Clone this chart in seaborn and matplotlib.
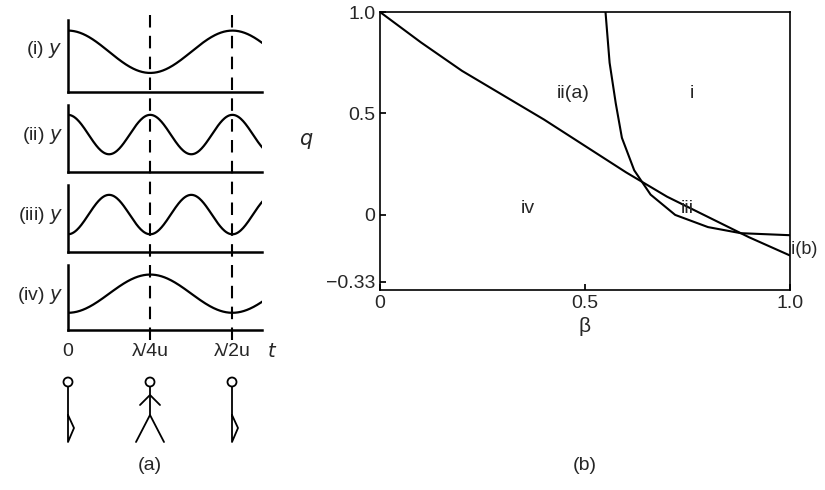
import numpy as np
import matplotlib
matplotlib.use("Agg")
import matplotlib.pyplot as plt
import seaborn as sns
from matplotlib.lines import Line2D
from matplotlib.patches import Ellipse

sns.set_theme(style="white")
plt.rcParams['font.family'] = ['Liberation Sans', 'DejaVu Sans']

# panel (a) waveforms: label, frequency (cycles per λ/2u), sign
wave_labels = ["(i)", "(ii)", "(iii)", "(iv)"]
wave_freq = [1, 2, 2, 1]
wave_sign = [1, 1, -1, -1]
t_ticks = [0, 0.5, 1.0]
t_ticklabels = ["0", "λ/4u", "λ/2u"]

# panel (b) boundaries
beta_iv = [0.0, 0.1, 0.2, 0.3, 0.4, 0.5, 0.6, 0.7, 0.8, 0.9, 1.0]
q_iv = [1.0, 0.85, 0.71, 0.59, 0.47, 0.34, 0.21, 0.09, -0.01, -0.11, -0.2]
beta_ia = [0.55, 0.56, 0.575, 0.59, 0.62, 0.66, 0.72, 0.8, 0.88, 1.0]
q_ia = [1.0, 0.75, 0.55, 0.38, 0.22, 0.1, 0.0, -0.06, -0.09, -0.1]
region_labels = [("ii(a)", 0.47, 0.6), ("i", 0.76, 0.6), ("iv", 0.36, 0.03),
                 ("iii", 0.75, 0.03)]

fig = plt.figure(figsize=(8.25, 4.9), dpi=100)
W, H = 825, 490
x0, x1 = 68, 262
rows = [(20, 92), (105, 172), (185, 252), (265, 330)]
t = np.linspace(0, 1.35, 300)
for i, (top, bot) in enumerate(rows):
    ax = fig.add_axes([x0 / W, 1 - bot / H, (x1 - x0) / W, (bot - top) / H])
    y = wave_sign[i] * np.cos(2 * np.pi * wave_freq[i] * t)
    sns.lineplot(x=t, y=y, ax=ax, color="black", lw=1.6)
    ax.set_xlim(0, 1.18)
    ax.set_ylim(-1.9, 1.5)
    for s in ["top", "right"]:
        ax.spines[s].set_visible(False)
    for s in ["left", "bottom"]:
        ax.spines[s].set_color("black")
        ax.spines[s].set_linewidth(1.8)
    ax.set_xticks([]); ax.set_yticks([])
    ax.set_ylabel("")
    fig.text((x0 - 5) / W, 1 - (top + 30) / H, wave_labels[i] + " $y$",
             ha="right", va="center", fontsize=14)
for tv in [0.5, 1.0]:
    xf = (x0 + tv / 1.18 * (x1 - x0)) / W
    fig.add_artist(Line2D([xf, xf], [1 - 15 / H, 1 - 345 / H], color="black",
                          ls=(0, (6, 4)), lw=1.5))
for tv, lab in zip(t_ticks, t_ticklabels):
    xf = (x0 + tv / 1.18 * (x1 - x0)) / W
    fig.text(xf, 1 - 352 / H, lab, ha="center", va="center", fontsize=14)
fig.text((x1 + 10) / W, 1 - 352 / H, "$t$", ha="center", va="center", fontsize=14)

def stick(xc, spread):
    yh = 1 - 382 / H
    fig.add_artist(Ellipse((xc / W, yh), 9 / W, 9 / H, transform=fig.transFigure,
                           fill=False, color="black", lw=1.3))
    hip = 1 - 415 / H
    fig.add_artist(Line2D([xc / W, xc / W], [yh - 5 / H, hip], color="black", lw=1.3))
    if spread:
        fig.add_artist(Line2D([(xc - 14) / W, xc / W, (xc + 14) / W],
                              [1 - 442 / H, hip, 1 - 442 / H], color="black", lw=1.3))
        fig.add_artist(Line2D([(xc - 10) / W, xc / W, (xc + 10) / W],
                              [1 - 405 / H, 1 - 395 / H, 1 - 405 / H], color="black", lw=1.3))
    else:
        fig.add_artist(Line2D([xc / W, (xc + 6) / W, xc / W, xc / W],
                              [hip, 1 - 428 / H, 1 - 442 / H, hip], color="black", lw=1.3))
stick(68, False); stick(150, True); stick(232, False)
fig.text(150 / W, 1 - 465 / H, "(a)", ha="center", va="center", fontsize=14)

ax = fig.add_axes([380 / W, 1 - 290 / H, 410 / W, 278 / H])
sns.lineplot(x=beta_iv, y=q_iv, ax=ax, color="black", lw=1.5)
sns.lineplot(x=beta_ia, y=q_ia, ax=ax, color="black", lw=1.5)
ax.set_xlim(0, 1.0); ax.set_ylim(-0.37, 1.0)
ax.set_xticks([0, 0.5, 1.0]); ax.set_xticklabels(["0", "0.5", "1.0"])
ax.set_yticks([1.0, 0.5, 0, -0.33]); ax.set_yticklabels(["1.0", "0.5", "0", "−0.33"])
ax.tick_params(direction="in", labelsize=14, length=4, color="black", bottom=True, left=True)
for s in ax.spines.values():
    s.set_color("black"); s.set_linewidth(1.2)
ax.set_xlabel("β", fontsize=15)
ax.set_ylabel("$q$", fontsize=15, rotation=0, labelpad=14)
for lab, bx, qy in region_labels:
    ax.text(bx, qy, lab, fontsize=14, ha="center", va="center")
ax.text(0.995, -0.17, "ii(b)", fontsize=13, ha="left", va="center", clip_on=False)
fig.text(585 / W, 1 - 465 / H, "(b)", ha="center", va="center", fontsize=14)
fig.savefig("out.png", dpi=100)
